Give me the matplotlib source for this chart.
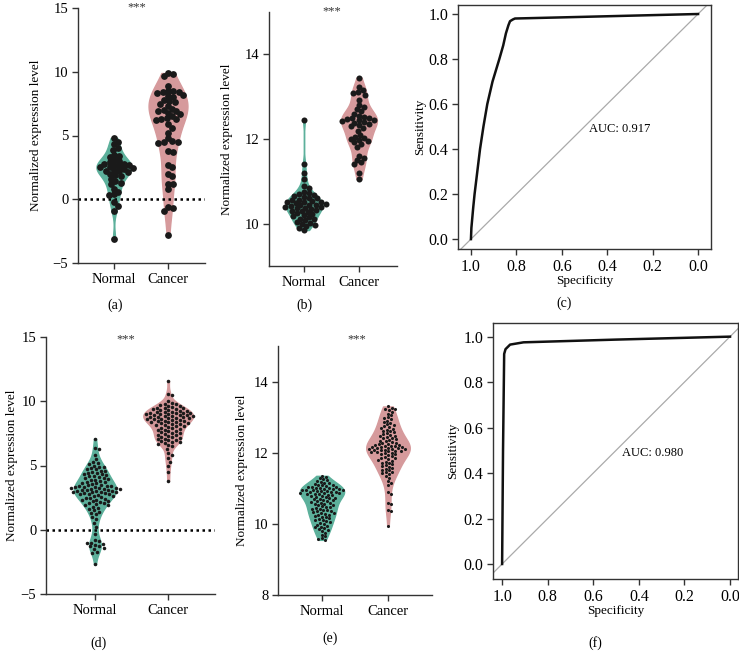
import numpy as np
import matplotlib
matplotlib.use("Agg")
import matplotlib.pyplot as plt

plt.rcParams['font.family'] = ['Liberation Serif', 'DejaVu Serif']
plt.rcParams['font.size'] = 9

# ---- data ----
groups = ["Normal", "Cancer"]

a_normal = [4.8, 4.5, 4.3, 4.0, 3.9, 3.5, 3.4, 3.3, 3.1, 3.0, 2.9, 2.8, 2.75, 2.7, 2.65, 2.6,
            2.55, 2.5, 2.45, 2.4, 2.3, 2.25, 2.2, 2.1, 2.0, 1.9, 1.8, 1.6, 1.4, 1.3, 1.2, 0.8,
            0.6, 0.4, 0.3, -0.2, -0.5, -0.9, -3.1]
a_cancer = [9.9, 9.8, 9.7, 8.9, 8.5, 8.5, 8.4, 8.4, 8.3, 8.2, 8.1, 8.0, 7.8, 7.7, 7.6, 7.5,
            7.3, 7.1, 7.0, 6.9, 6.9, 6.8, 6.7, 6.5, 6.4, 6.3, 6.3, 6.2, 5.9, 5.6, 5.2, 4.8,
            4.6, 4.5, 4.5, 4.4, 3.8, 3.7, 2.7, 2.5, 2.0, 1.8, 1.2, 1.2, 0.8, -0.6, -0.7,
            -0.9, -2.8]

b_normal = [12.45, 11.4, 11.2, 11.05, 10.9, 10.85, 10.75, 10.72, 10.7, 10.68, 10.65, 10.62,
            10.6, 10.6, 10.57, 10.55, 10.53, 10.52, 10.5, 10.5, 10.48, 10.47, 10.45, 10.45,
            10.43, 10.42, 10.4, 10.4, 10.38, 10.36, 10.35, 10.33, 10.3, 10.3, 10.28, 10.25,
            10.22, 10.2, 10.18, 10.15, 10.12, 10.1, 10.08, 10.05, 10.02, 10.0, 9.97, 9.95,
            9.9, 9.85]
b_cancer = [13.45, 13.22, 13.15, 13.1, 13.08, 13.05, 12.92, 12.8, 12.75, 12.7, 12.65, 12.6,
            12.55, 12.52, 12.5, 12.5, 12.48, 12.46, 12.44, 12.42, 12.4, 12.38, 12.35, 12.32,
            12.3, 12.25, 12.2, 12.1, 12.05, 12.02, 12.0, 11.98, 11.95, 11.92, 11.88, 11.82,
            11.6, 11.55, 11.5, 11.45, 11.4, 11.2, 11.05]

d_normal = [7.1, 6.4, 6.3, 5.8, 5.5, 5.3, 5.2, 5.1, 5.0, 4.9, 4.85, 4.8, 4.75, 4.7, 4.6,
            4.55, 4.5, 4.45, 4.4, 4.35, 4.3, 4.25, 4.2, 4.15, 4.1, 4.05, 4.0, 3.95, 3.9,
            3.85, 3.8, 3.75, 3.7, 3.65, 3.6, 3.55, 3.5, 3.45, 3.42, 3.4, 3.37, 3.35, 3.32,
            3.3, 3.27, 3.25, 3.22, 3.2, 3.18, 3.15, 3.12, 3.1, 3.08, 3.05, 3.02, 3.0, 2.97,
            2.95, 2.92, 2.9, 2.87, 2.85, 2.8, 2.77, 2.75, 2.7, 2.65, 2.6, 2.55, 2.5, 2.45,
            2.4, 2.35, 2.3, 2.25, 2.2, 2.15, 2.1, 2.05, 2.0, 1.95, 1.9, 1.8, 1.7, 1.6, 1.5,
            1.4, 1.3, 1.2, 1.0, 0.8, 0.5, 0.2, -0.3, -0.8, -0.9, -1.0, -1.0, -1.1, -1.2,
            -1.3, -1.3, -1.4, -1.5, -1.7, -1.8, -2.7]
d_cancer = [11.6, 10.6, 10.5, 10.0, 9.9, 9.8, 9.75, 9.7, 9.65, 9.6, 9.55, 9.5, 9.47, 9.45,
            9.4, 9.37, 9.35, 9.3, 9.27, 9.25, 9.2, 9.17, 9.15, 9.12, 9.1, 9.07, 9.05, 9.02,
            9.0, 8.98, 8.95, 8.93, 8.9, 8.88, 8.85, 8.83, 8.8, 8.78, 8.75, 8.72, 8.7, 8.67,
            8.65, 8.62, 8.6, 8.57, 8.55, 8.5, 8.47, 8.45, 8.4, 8.37, 8.35, 8.3, 8.27, 8.25,
            8.2, 8.17, 8.15, 8.1, 8.05, 8.0, 7.95, 7.9, 7.85, 7.8, 7.75, 7.7, 7.65, 7.6,
            7.55, 7.5, 7.45, 7.4, 7.35, 7.3, 7.25, 7.2, 7.15, 7.1, 7.05, 7.0, 6.95, 6.9,
            6.85, 6.8, 6.75, 6.7, 6.6, 6.5, 6.3, 6.0, 5.8, 5.6, 5.3, 5.0, 4.5, 3.8]

e_normal = [11.35, 11.32, 11.28, 11.25, 11.22, 11.2, 11.18, 11.15, 11.14, 11.12, 11.1,
            11.09, 11.08, 11.06, 11.05, 11.04, 11.03, 11.02, 11.0, 11.0, 10.99, 10.98,
            10.97, 10.96, 10.95, 10.95, 10.94, 10.93, 10.92, 10.91, 10.9, 10.9, 10.89,
            10.88, 10.87, 10.86, 10.85, 10.84, 10.83, 10.82, 10.8, 10.79, 10.78, 10.76,
            10.75, 10.74, 10.72, 10.7, 10.69, 10.68, 10.66, 10.65, 10.63, 10.62, 10.6,
            10.59, 10.57, 10.55, 10.54, 10.52, 10.5, 10.48, 10.47, 10.45, 10.43, 10.42,
            10.4, 10.38, 10.36, 10.35, 10.33, 10.31, 10.3, 10.28, 10.26, 10.25, 10.22,
            10.2, 10.18, 10.16, 10.14, 10.12, 10.1, 10.08, 10.05, 10.03, 10.0, 9.98, 9.95,
            9.92, 9.9, 9.87, 9.85, 9.82, 9.8, 9.75, 9.7, 9.65, 9.6, 9.58, 9.55]
e_cancer = [13.3, 13.27, 13.24, 13.22, 13.2, 13.15, 13.1, 13.05, 13.0, 12.97, 12.94, 12.9,
            12.87, 12.84, 12.8, 12.78, 12.75, 12.72, 12.7, 12.68, 12.65, 12.62, 12.6, 12.57,
            12.55, 12.52, 12.5, 12.48, 12.46, 12.44, 12.42, 12.4, 12.38, 12.36, 12.34,
            12.32, 12.3, 12.28, 12.27, 12.25, 12.24, 12.22, 12.21, 12.2, 12.19, 12.18,
            12.17, 12.16, 12.15, 12.14, 12.13, 12.12, 12.11, 12.1, 12.1, 12.09, 12.08,
            12.07, 12.06, 12.05, 12.04, 12.03, 12.02, 12.0, 11.99, 11.97, 11.95, 11.93,
            11.9, 11.88, 11.86, 11.84, 11.82, 11.8, 11.78, 11.75, 11.72, 11.7, 11.67,
            11.65, 11.62, 11.6, 11.57, 11.55, 11.52, 11.5, 11.47, 11.45, 11.42, 11.4,
            11.35, 11.3, 11.2, 11.15, 11.1, 10.9, 10.85, 10.6, 10.55, 10.4, 10.35, 9.95]

# ROC curves (specificity, sensitivity)
c_spec = [1.0, 0.998, 0.99, 0.984, 0.972, 0.96, 0.945, 0.928, 0.905, 0.875, 0.858, 0.846,
          0.835, 0.828, 0.815, 0.806, 0.6, 0.4, 0.2, 0.0]
c_sens = [0.0, 0.05, 0.14, 0.2, 0.3, 0.4, 0.5, 0.6, 0.7, 0.8, 0.86, 0.914, 0.95, 0.968,
          0.976, 0.98, 0.985, 0.99, 0.995, 1.0]
c_auc = "AUC: 0.917"

f_spec = [1.0, 0.996, 0.991, 0.985, 0.965, 0.906, 0.5, 0.0]
f_sens = [0.0, 0.5, 0.924, 0.945, 0.965, 0.975, 0.987, 1.0]
f_auc = "AUC: 0.980"

TEAL = "#5cb09b"
PINK = "#d69a9c"

W, H = 739, 654
fig = plt.figure(figsize=(W / 100, H / 100), dpi=100)


def px_axes(left, top, right, bottom):
    return fig.add_axes([left / W, 1 - bottom / H, (right - left) / W, (bottom - top) / H])


def swarm_x(ax, pos, vals, diam, overlap):
    """beeswarm offsets in pixel space, returned in data coords"""
    vals = np.asarray(vals, dtype=float)
    pts = ax.transData.transform(np.column_stack([np.full(len(vals), pos), vals]))
    placed = []
    xs = np.zeros(len(vals))
    step = diam * 0.2
    mind = (overlap * diam) ** 2
    for i in np.argsort(-vals):
        x0, y = pts[i]
        found = 0.0
        for k in range(400):
            offs = [0.0] if k == 0 else [k * step, -k * step]
            hit = None
            for off in offs:
                if all((x0 + off - px) ** 2 + (y - py) ** 2 >= mind for px, py in placed):
                    hit = off
                    break
            if hit is not None:
                found = hit
                break
        placed.append((x0 + found, y))
        xs[i] = x0 + found
    back = ax.transData.inverted().transform(np.column_stack([xs, pts[:, 1]]))
    return back[:, 0]


def violin_panel(ax, normal, cancer, widths, ylim, yticks, msize, zero_line, ylab_x, xlim,
                 overlap=0.75, bw=0.35):
    ax.set_xlim(*xlim)
    ax.set_ylim(*ylim)
    parts = ax.violinplot([normal, cancer], positions=[0, 1], widths=widths,
                          showextrema=False, bw_method=bw)
    for body, col in zip(parts['bodies'], [TEAL, PINK]):
        body.set_facecolor(col)
        body.set_edgecolor(col)
        body.set_alpha(1)
        body.set_zorder(1)
    if zero_line:
        ax.axhline(0, color="black", lw=1.8, ls=(0, (1, 1.4)), zorder=2)
    diam = np.sqrt(msize) * 100 / 72
    for pos, vals in zip([0, 1], [normal, cancer]):
        xs = swarm_x(ax, pos, vals, diam, overlap)
        ax.scatter(xs, vals, s=msize, color="#1a1a1a", lw=0, zorder=3)
    ax.set_xticks([0, 1])
    ax.set_xticklabels(groups)
    ax.set_yticks(yticks)
    for s in ["top", "right"]:
        ax.spines[s].set_visible(False)
    for s in ["left", "bottom"]:
        ax.spines[s].set_color("#333333")
        ax.spines[s].set_linewidth(1.0)
    ax.tick_params(length=4, width=1.0, color="#333333", pad=3, labelsize=10.5)
    ax.set_ylabel("Normalized expression level", fontsize=9.5)
    ax.yaxis.set_label_coords(ylab_x, 0.5)


def roc_panel(ax, spec, sens, auc, xlim, ylim, ylab_x, auc_pos):
    ax.plot([1.2, -0.2], [-0.2, 1.2], color="#aaaaaa", lw=0.9, zorder=1)
    ax.plot(spec, sens, color="#111111", lw=1.8, zorder=2, solid_joinstyle="round")
    ax.set_xlim(*xlim)
    ax.set_ylim(*ylim)
    ticks = [1.0, 0.8, 0.6, 0.4, 0.2, 0.0]
    ax.set_xticks(ticks)
    ax.set_xticklabels([f"{t:.1f}" for t in ticks])
    ax.set_yticks(ticks)
    ax.set_yticklabels([f"{t:.1f}" for t in ticks])
    for s in ax.spines.values():
        s.set_color("#333333")
        s.set_linewidth(1.0)
    ax.tick_params(length=4, width=1.0, color="#333333", pad=3, labelsize=11.5)
    ax.set_xlabel("Specificity", fontsize=9.5, labelpad=0)
    ax.set_ylabel("Sensitivity", fontsize=9.5)
    ax.yaxis.set_label_coords(ylab_x, 0.5)
    ax.text(auc_pos[0], auc_pos[1], auc, fontsize=9, ha="left", va="center")


ax_a = px_axes(78, 8, 205, 263)
violin_panel(ax_a, a_normal, a_cancer, [0.65, 0.72], (-5, 15), [-5, 0, 5, 10, 15], 24,
             True, -0.28, (-0.667, 1.685), overlap=0.7)
ax_b = px_axes(269, 12, 397, 266)
violin_panel(ax_b, b_normal, b_cancer, [0.67, 0.65], (9, 15), [10, 12, 14], 19,
             False, -0.28, (-0.636, 1.69), overlap=0.75)
ax_c = px_axes(458, 5, 711, 249)
roc_panel(ax_c, c_spec, c_sens, c_auc, (1.057, -0.057), (-0.044, 1.04), -0.126, (0.48, 0.49))

ax_d = px_axes(46, 337, 215, 594)
violin_panel(ax_d, d_normal, d_cancer, [0.58, 0.68], (-5, 15), [-5, 0, 5, 10, 15], 6.5,
             True, -0.166, (-0.67, 1.64), overlap=1.12, bw=0.28)
ax_e = px_axes(278, 346, 432, 595)
violin_panel(ax_e, e_normal, e_cancer, [0.67, 0.66], (8, 15), [8, 10, 12, 14], 5,
             False, -0.195, (-0.667, 1.667), overlap=1.12)
ax_f = px_axes(493, 323, 738, 579)
roc_panel(ax_f, f_spec, f_sens, f_auc, (1.04, -0.035), (-0.066, 1.06), -0.139, (0.474, 0.49))

# significance marks and panel letters (pixel positions)
for x, y in [(137, 7), (332, 11), (126, 339), (357, 339)]:
    fig.text(x / W, 1 - y / H, "***", ha="center", va="center", fontsize=9, color="#333333")
for lab, x, y in [("(a)", 115, 305), ("(b)", 304, 305), ("(c)", 564, 303),
                  ("(d)", 98, 643), ("(e)", 330, 638), ("(f)", 595, 643)]:
    fig.text(x / W, 1 - y / H, lab, ha="center", va="center", fontsize=10)

fig.savefig("out.png", dpi=100)
